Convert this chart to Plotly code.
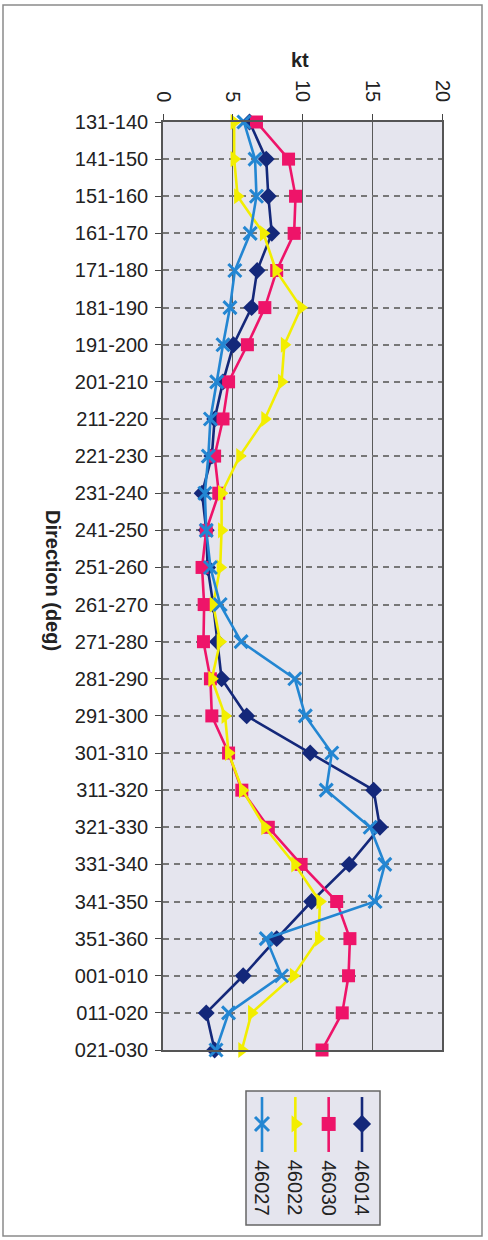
import plotly.graph_objects as go

W, H = 488, 1240

categories = ["131-140", "141-150", "151-160", "161-170", "171-180", "181-190",
              "191-200", "201-210", "211-220", "221-230", "231-240", "241-250",
              "251-260", "261-270", "271-280", "281-290", "291-300", "301-310",
              "311-320", "321-330", "331-340", "341-350", "351-360", "001-010",
              "011-020", "021-030"]

s46014 = [6.2, 7.4, 7.55, 7.8, 6.75, 6.35, 5.05, 4.3, 3.7, 3.5, 2.8, 3.1, 3.2,
          3.6, 3.9, 4.2, 6.0, 10.55, 15.1, 15.55, 13.35, 10.65, 8.15, 5.75, 3.1, 3.7]
s46030 = [6.7, 9.0, 9.5, 9.4, 8.15, 7.3, 6.05, 4.7, 4.3, 3.7, 4.0, 3.1, 2.8,
          2.95, 2.9, 3.4, 3.5, 4.7, 5.65, 7.55, 9.9, 12.45, 13.4, 13.3, 12.85, 11.4]
s46022 = [5.1, 5.1, 5.35, 7.2, 8.1, 9.9, 8.7, 8.5, 7.3, 5.5, 4.2, 4.2, 4.1,
          3.6, 4.1, 3.5, 4.45, 4.7, 5.7, 7.3, 9.45, 11.25, 11.15, 9.35, 6.35, 5.65]
s46027 = [5.8, 6.6, 6.7, 6.25, 5.15, 4.8, 4.3, 3.85, 3.4, 3.25, 3.0, 3.1, 3.4,
          4.1, 5.6, 9.45, 10.2, 12.1, 11.7, 14.85, 15.9, 15.2, 7.4, 8.5, 4.7, 3.8]

x_ticks = [0, 5, 10, 15, 20]

# drawing order (first = bottom)
series = [
    ("46014", s46014, "#14287a", "diamond", 13),
    ("46030", s46030, "#ee1469", "square", 13),
    ("46022", s46022, "#f2ee00", "triangle-right", 14),
    ("46027", s46027, "#2386d2", "x-thin", 13),
]
# legend order left-to-right
legend_order = ["46027", "46022", "46030", "46014"]

FONT = "Liberation Sans, Arial, sans-serif"
BG = "#e5e5ee"
GRID = "#5a5a5a"

fig = go.Figure()
for name, vals, col, sym, sz in series:
    mk = dict(symbol=sym, size=sz, color=col)
    if sym == "x-thin":
        mk["line"] = dict(color=col, width=3)
    fig.add_trace(go.Scatter(
        x=vals, y=categories, mode="lines+markers", name=name,
        line=dict(color=col, width=2.6), marker=mk,
        xaxis="x", yaxis="y", showlegend=False, cliponaxis=False))

# custom rotated legend glyphs
lookup = {s[0]: s for s in series}
for i, nm in enumerate(legend_order):
    _, _, col, sym, sz = lookup[nm]
    fig.add_trace(go.Scatter(x=[i, i], y=[0.545, 0.955], mode="lines",
                             line=dict(color=col, width=2.6),
                             xaxis="x2", yaxis="y2", showlegend=False, hoverinfo="skip"))
    mk = dict(symbol=sym, size=sz + 1, color=col)
    if sym == "x-thin":
        mk["line"] = dict(color=col, width=3)
    fig.add_trace(go.Scatter(x=[i], y=[0.754], mode="markers", marker=mk,
                             xaxis="x2", yaxis="y2", showlegend=False, hoverinfo="skip"))

px = lambda v: v / W
py = lambda v: 1 - v / H

fig.update_layout(
    width=W, height=H,
    margin=dict(l=0, r=0, t=0, b=0),
    paper_bgcolor="white",
    plot_bgcolor=BG,
    template="none",
    font=dict(family=FONT, size=20, color="#222"),
    xaxis=dict(domain=[px(163), px(442)], range=[0, 20], side="top",
               tickvals=x_ticks, tickangle=90, ticks="outside", ticklen=6,
               tickcolor="#444", ticklabelstandoff=5,
               showgrid=True, gridcolor=GRID, gridwidth=1,
               showline=True, linecolor="#555", linewidth=1.5, mirror=True,
               zeroline=False, automargin=False, fixedrange=True,
               tickfont=dict(size=20, family=FONT, color="#222")),
    yaxis=dict(domain=[py(1050), py(122)], type="category",
               categoryorder="array", categoryarray=categories,
               range=[len(categories) - 1, 0],
               ticks="outside", ticklen=6, tickcolor="#444", ticklabelstandoff=3,
               showgrid=True, gridcolor="#777", gridwidth=1.5, griddash="6px,5px",
               showline=True, linecolor="#555", linewidth=1.5, mirror=True,
               zeroline=False, automargin=False, fixedrange=True,
               tickfont=dict(size=20, family=FONT, color="#222")),
    xaxis2=dict(domain=[px(246), px(380)], range=[-0.48, 3.54], visible=False,
                fixedrange=True, anchor="y2"),
    yaxis2=dict(domain=[py(1225), py(1091)], range=[0, 1], visible=False,
                fixedrange=True, anchor="x2"),
    shapes=[
        # outer frame
        dict(type="rect", xref="paper", yref="paper", x0=px(3), x1=px(482),
             y0=py(1236), y1=py(5), line=dict(color="#8a8a8a", width=1.5),
             layer="below"),
        # legend box
        dict(type="rect", xref="paper", yref="paper", x0=px(246), x1=px(380),
             y0=py(1225), y1=py(1091), line=dict(color="#666", width=1.5),
             fillcolor=BG, layer="below"),
    ],
    annotations=[
        dict(text="<b>kt</b>", xref="paper", yref="paper", x=px(300), y=py(47),
             showarrow=False, font=dict(size=20, family=FONT, color="#222")),
        dict(text="<b>Direction (deg)</b>", xref="paper", yref="paper",
             x=px(40), y=py(580), textangle=90, showarrow=False,
             font=dict(size=20, family=FONT, color="#222")),
    ] + [
        dict(text=nm, xref="x2", yref="y2", x=i, y=0.5, yanchor="top",
             xanchor="center", textangle=90, showarrow=False,
             font=dict(size=20, family=FONT, color="#222"))
        for i, nm in enumerate(legend_order)
    ],
)

fig.write_html("out.html", config={"displayModeBar": False},
               post_script="document.body.style.margin='0';document.body.style.padding='0';")
